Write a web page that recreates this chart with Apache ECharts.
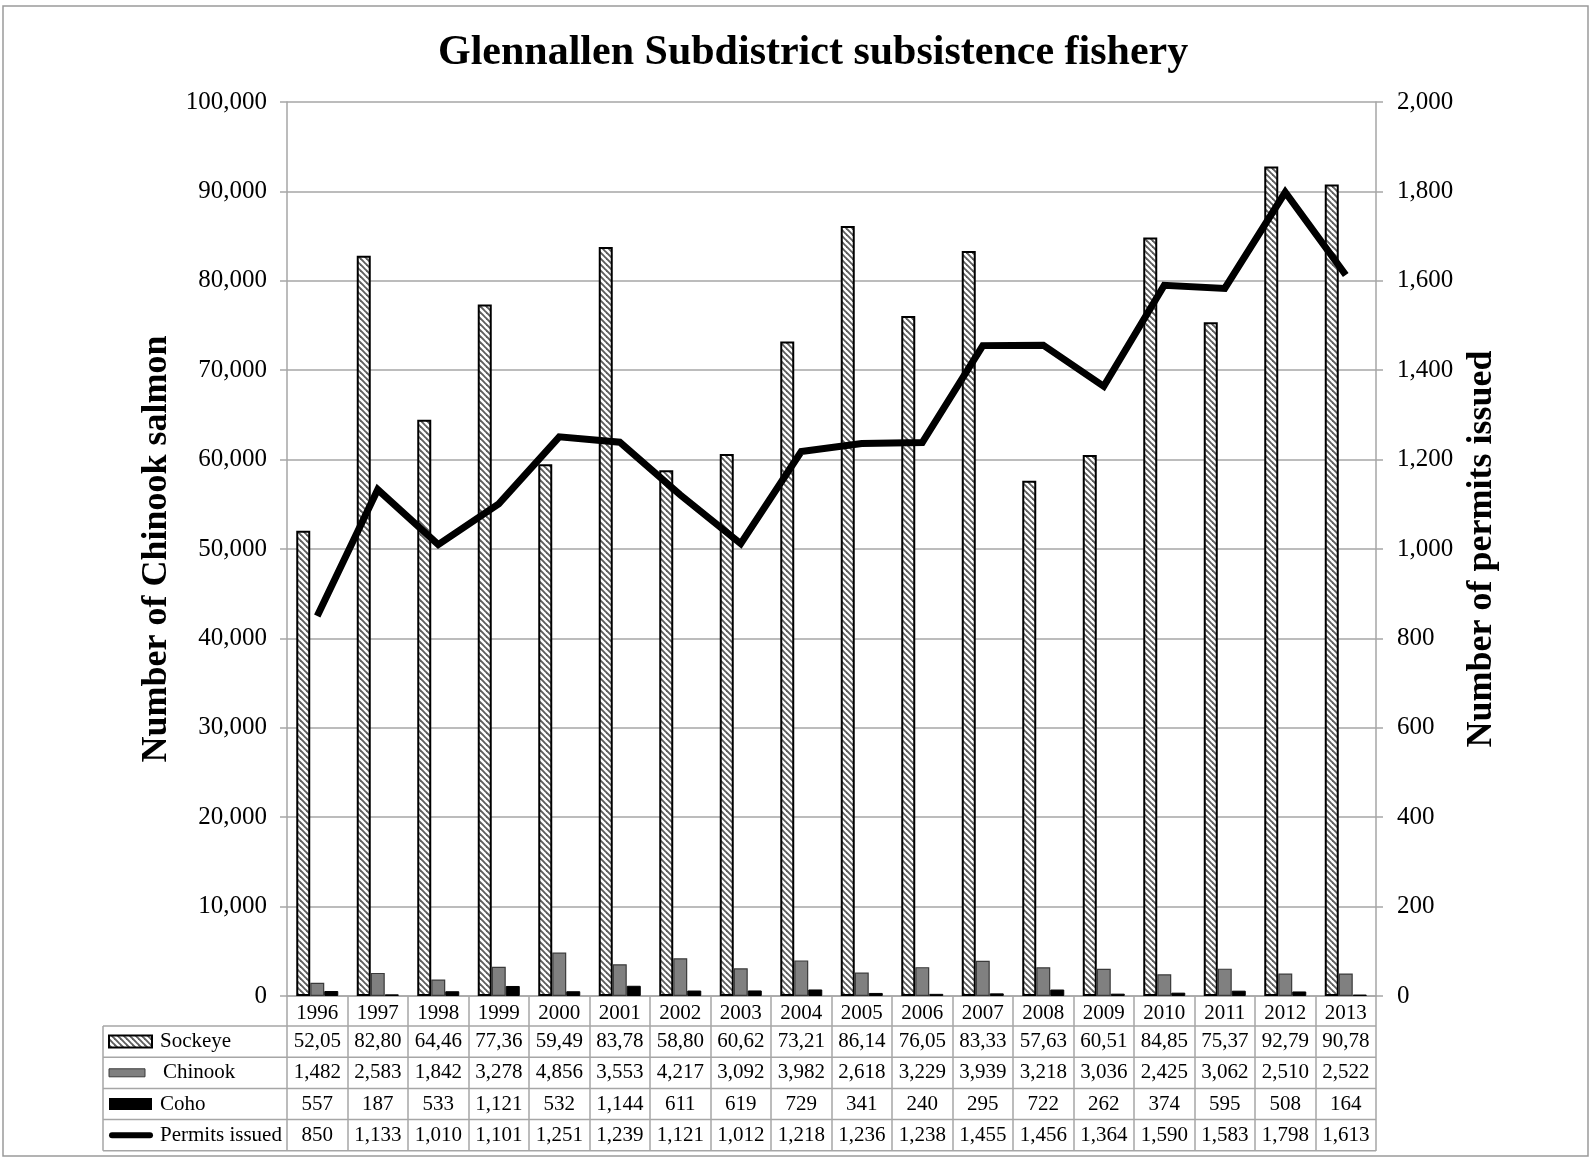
<!DOCTYPE html>
<html>
<head>
<meta charset="utf-8">
<script src="https://cdn.jsdelivr.net/npm/echarts@6/dist/echarts.min.js"></script>
<style>
html,body{margin:0;padding:0;background:#fff;}
#main{width:1592px;height:1159px;}
</style>
</head>
<body>
<div id="main"></div>
<script>
// ---- data ----
var years = ['1996','1997','1998','1999','2000','2001','2002','2003','2004','2005','2006','2007','2008','2009','2010','2011','2012','2013'];
var sockeye = [52050, 82800, 64460, 77360, 59490, 83780, 58800, 60620, 73210, 86140, 76050, 83330, 57630, 60510, 84850, 75370, 92790, 90780];
var chinook = [1482, 2583, 1842, 3278, 4856, 3553, 4217, 3092, 3982, 2618, 3229, 3939, 3218, 3036, 2425, 3062, 2510, 2522];
var coho = [557, 187, 533, 1121, 532, 1144, 611, 619, 729, 341, 240, 295, 722, 262, 374, 595, 508, 164];
var permits = [850, 1133, 1010, 1101, 1251, 1239, 1121, 1012, 1218, 1236, 1238, 1455, 1456, 1364, 1590, 1583, 1798, 1613];
var seriesNames = ['Sockeye', 'Chinook', 'Coho', 'Permits issued'];

var FONT = "'Liberation Serif', 'Times New Roman', serif";

// hatch pattern
function makeHatch() {
  var c = document.createElement('canvas');
  c.width = 6; c.height = 6;
  var g = c.getContext('2d');
  g.fillStyle = '#ffffff';
  g.fillRect(0, 0, 6, 6);
  g.strokeStyle = '#5e5e5e';
  g.lineWidth = 1.9;
  for (var k = -6; k <= 6; k += 6) {
    g.beginPath();
    g.moveTo(k - 1, -1);
    g.lineTo(k + 7, 7);
    g.stroke();
  }
  return c;
}
var hatch = makeHatch();
function hatchFill() { return { image: hatch, repeat: 'repeat' }; }

function fmt(v) { return v.toLocaleString('en-US'); }
function fmtSock(v) { return fmt(v).slice(0, 5); } // cells are clipped in the original

var chart = echarts.init(document.getElementById('main'), null, { renderer: 'canvas' });

var option = {
  animation: false,
  backgroundColor: '#ffffff',
  title: {
    text: 'Glennallen Subdistrict subsistence fishery',
    left: 433,
    top: 27,
    textStyle: { fontFamily: FONT, fontSize: 42, fontWeight: 'bold', color: '#000' }
  },
  legend: { show: false },
  grid: { left: 287, right: 216, top: 102, bottom: 163, containLabel: false },
  xAxis: {
    type: 'category',
    data: years,
    boundaryGap: true,
    axisLine: { show: true, lineStyle: { color: '#a6a6a6', width: 1.5 } },
    axisTick: { show: true, length: 155, inside: false, lineStyle: { color: '#a6a6a6', width: 1.5 } },
    axisLabel: { margin: 7, fontFamily: FONT, fontSize: 21, color: '#000' }
  },
  yAxis: [
    {
      type: 'value', min: 0, max: 100000, interval: 10000,
      name: 'Number of Chinook salmon',
      nameLocation: 'middle',
      nameGap: 112,
      nameTextStyle: { fontFamily: FONT, fontSize: 36, fontWeight: 'bold', color: '#000' },
      axisLine: { show: true, lineStyle: { color: '#a6a6a6', width: 1.5 } },
      axisTick: { show: true, length: 7, lineStyle: { color: '#a6a6a6', width: 1.5 } },
      axisLabel: { margin: 20, fontFamily: FONT, fontSize: 25, color: '#000', formatter: function (v) { return fmt(v); } },
      splitLine: { show: true, lineStyle: { color: '#a6a6a6', width: 1.5 } }
    },
    {
      type: 'value', min: 0, max: 2000, interval: 200,
      name: 'Number of permits issued',
      nameLocation: 'middle',
      nameGap: 88,
      nameTextStyle: { fontFamily: FONT, fontSize: 36, fontWeight: 'bold', color: '#000' },
      axisLine: { show: true, lineStyle: { color: '#a6a6a6', width: 1.5 } },
      axisTick: { show: true, length: 7, lineStyle: { color: '#a6a6a6', width: 1.5 } },
      axisLabel: { margin: 21, fontFamily: FONT, fontSize: 25, color: '#000', formatter: function (v) { return fmt(v); } },
      splitLine: { show: false }
    }
  ],
  series: [
    {
      name: seriesNames[0], type: 'bar', data: sockeye, yAxisIndex: 0,
      barWidth: 14, barGap: '0%',
      itemStyle: { color: hatchFill(), borderColor: '#000', borderWidth: 2 }
    },
    {
      name: seriesNames[1], type: 'bar', data: chinook, yAxisIndex: 0,
      barWidth: 14, barGap: '0%',
      itemStyle: { color: '#808080', borderColor: '#3a3a3a', borderWidth: 1.2 }
    },
    {
      name: seriesNames[2], type: 'bar', data: coho, yAxisIndex: 0,
      barWidth: 14, barGap: '0%',
      itemStyle: { color: '#000000', borderColor: '#000', borderWidth: 1 }
    },
    {
      name: seriesNames[3], type: 'line', data: permits, yAxisIndex: 1,
      showSymbol: false, symbol: 'none',
      lineStyle: { color: '#000', width: 7, join: 'miter', cap: 'butt' },
      z: 5
    }
  ]
};
chart.setOption(option);

// ---- data table under the plot (built from the axis scale) ----
function buildTable() {
  var x0 = chart.convertToPixel({ gridIndex: 0 }, [0, 0]);
  var zeroY = x0[1];
  var half = (chart.convertToPixel({ xAxisIndex: 0 }, 1) - chart.convertToPixel({ xAxisIndex: 0 }, 0)) / 2;
  var rightEdge = chart.convertToPixel({ xAxisIndex: 0 }, years.length - 1) + half;
  var tableLeft = 103;
  var headerH = 30;
  var rowH = 31.2;
  var lineColor = '#a6a6a6';
  var els = [];

  for (var r = 0; r <= 4; r++) {
    var y = zeroY + headerH + r * rowH;
    els.push({ type: 'line', shape: { x1: tableLeft, y1: y, x2: rightEdge, y2: y }, style: { stroke: lineColor, lineWidth: 1.5 }, silent: true });
  }
  els.push({ type: 'line', shape: { x1: tableLeft, y1: zeroY + headerH, x2: tableLeft, y2: zeroY + headerH + 4 * rowH }, style: { stroke: lineColor, lineWidth: 1.5 }, silent: true });

  var rows = [sockeye, chinook, coho, permits];
  var fmts = [fmtSock, fmt, fmt, fmt];
  for (var r2 = 0; r2 < 4; r2++) {
    var cy = zeroY + headerH + (r2 + 0.5) * rowH;
    for (var i = 0; i < years.length; i++) {
      var cx = chart.convertToPixel({ xAxisIndex: 0 }, i);
      els.push({ type: 'text', x: cx, y: cy, silent: true,
        style: { text: fmts[r2](rows[r2][i]), align: 'center', verticalAlign: 'middle', font: '21px ' + FONT, fill: '#000' } });
    }
    var kx = tableLeft + 6;
    if (r2 === 0) {
      els.push({ type: 'rect', shape: { x: kx, y: cy - 6, width: 43, height: 12 }, style: { fill: hatchFill(), stroke: '#000', lineWidth: 2 }, silent: true });
    } else if (r2 === 1) {
      els.push({ type: 'rect', shape: { x: kx, y: cy - 4, width: 36, height: 8 }, style: { fill: '#808080', stroke: '#3a3a3a', lineWidth: 1 }, silent: true });
    } else if (r2 === 2) {
      els.push({ type: 'rect', shape: { x: kx, y: cy - 6, width: 43, height: 12 }, style: { fill: '#000' }, silent: true });
    } else {
      els.push({ type: 'line', shape: { x1: kx + 3, y1: cy, x2: kx + 41, y2: cy }, style: { stroke: '#000', lineWidth: 6, lineCap: 'round' }, silent: true });
    }
    els.push({ type: 'text', x: tableLeft + (r2 === 1 ? 60 : 57), y: cy, silent: true,
      style: { text: seriesNames[r2], align: 'left', verticalAlign: 'middle', font: '21px ' + FONT, fill: '#000' } });
  }

  els.push({ type: 'rect', shape: { x: 3, y: 6, width: 1585, height: 1150 }, style: { fill: 'none', stroke: '#9a9a9a', lineWidth: 1.5 }, silent: true, z: -1 });

  chart.setOption({ graphic: { elements: els } });
}
buildTable();
</script>
</body>
</html>
